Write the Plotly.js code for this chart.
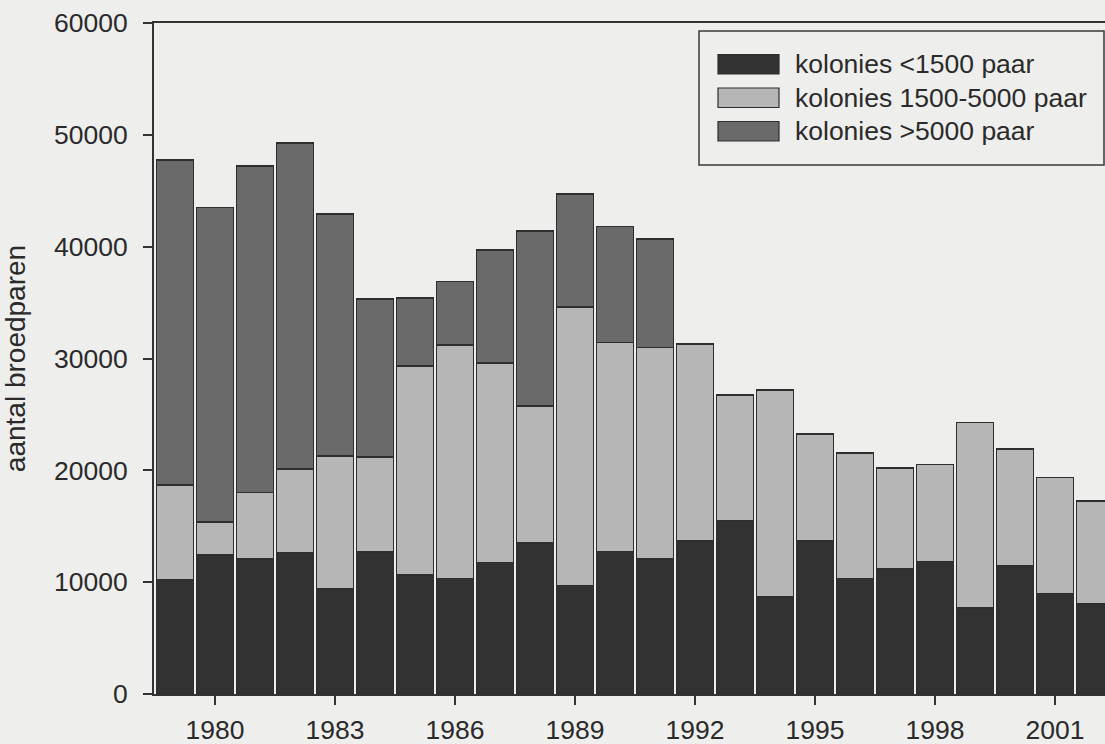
<!DOCTYPE html>
<html>
<head>
<meta charset="utf-8">
<script src="https://cdn.plot.ly/plotly-3.0.1.min.js"></script>
<style>
  html, body { margin: 0; padding: 0; background: #eeeeec; }
  #chart { width: 1105px; height: 744px; }
</style>
</head>
<body>
<div id="chart"></div>
<script>
// ---- data ----
const years = [1979,1980,1981,1982,1983,1984,1985,1986,1987,1988,1989,1990,
               1991,1992,1993,1994,1995,1996,1997,1998,1999,2000,2001,2002];
const seriesNames = ['kolonies <1500 paar', 'kolonies 1500-5000 paar', 'kolonies >5000 paar'];
const small  = [10260,12430,12080,12670, 9450,12700,10640,10350,11780,13500, 9690,12760,
                12050,13660,15500, 8680,13660,10320,11180,11870, 7690,11510, 8980, 8050];
const medium = [ 8440, 2930, 5960, 7460,11810, 8500,18700,20870,17800,12260,24900,18660,
                18930,17640,11250,18510, 9600,11210, 9010, 8670,16610,10380,10400, 9190];
const large  = [29060,28140,29190,29130,21640,14100, 6080, 5660,10130,15630,10100,10380,
                 9690, null, null, null, null, null, null, null, null, null, null, null];
const yTickVals = [0,10000,20000,30000,40000,50000,60000];
const xTickVals = [1980,1983,1986,1989,1992,1995,1998,2001];
const yTitle = 'aantal broedparen';

// ---- styles ----
const colors = ['#323232', '#b6b6b6', '#6a6a6a'];
const outline = '#2e2e2e';
const font = 'Liberation Sans, Arial, Helvetica, sans-serif';
const textColor = '#2a2a2a';

const W = 1105, H = 744;
const M = {l: 154, r: 0, t: 23, b: 50};
const pw = W - M.l - M.r, ph = H - M.t - M.b;
const px = x => (x - M.l) / pw;
const py = y => (H - M.b - y) / ph;

const traces = [small, medium, large].map((vals, i) => ({
  type: 'bar',
  x: years,
  y: vals,
  name: seriesNames[i],
  marker: {color: colors[i], line: {color: outline, width: 1.5}},
  showlegend: false,
  hoverinfo: 'x+y+name'
}));

// custom legend (box + swatches + labels)
const shapes = [{
  type: 'rect', xref: 'paper', yref: 'paper',
  x0: px(699), x1: px(1104), y0: py(165), y1: py(31),
  line: {color: '#3a3a3a', width: 1.5}, fillcolor: 'rgba(0,0,0,0)'
}];
const annotations = [];
const swTops = [54.5, 88, 121.5];
seriesNames.forEach((nm, i) => {
  shapes.push({
    type: 'rect', xref: 'paper', yref: 'paper',
    x0: px(718), x1: px(779), y0: py(swTops[i] + 19.5), y1: py(swTops[i]),
    line: {color: outline, width: 1.2}, fillcolor: colors[i]
  });
  annotations.push({
    xref: 'paper', yref: 'paper', x: px(793), y: py(swTops[i] + 9.5),
    xanchor: 'left', yanchor: 'middle', showarrow: false, text: nm,
    font: {family: font, size: 26.5, color: textColor}
  });
});

const layout = {
  width: W, height: H,
  margin: M,
  paper_bgcolor: '#eeeeec',
  plot_bgcolor: '#eeeeec',
  barmode: 'stack',
  bargap: 0.07,
  font: {family: font, size: 26, color: textColor},
  xaxis: {
    range: [1978.475, 2002.25],
    tickvals: xTickVals,
    ticks: 'outside', ticklen: 9, tickwidth: 2, tickcolor: '#333',
    showline: true, linecolor: '#333', linewidth: 2, mirror: true,
    showgrid: false, zeroline: false,
    tickfont: {family: font, size: 26.5, color: textColor},
    ticklabelstandoff: 2
  },
  yaxis: {
    range: [0, 60000],
    tickvals: yTickVals,
    tickformat: 'd',
    ticks: 'outside', ticklen: 9, tickwidth: 2, tickcolor: '#333',
    showline: true, linecolor: '#333', linewidth: 2,
    showgrid: false, zeroline: false,
    tickfont: {family: font, size: 26.5, color: textColor},
    ticklabelstandoff: 10,
    title: {text: yTitle, font: {family: font, size: 28, color: textColor}, standoff: 20},
    automargin: false
  },
  shapes: shapes,
  annotations: annotations
};

Plotly.newPlot('chart', traces, layout, {displayModeBar: false, staticPlot: true});
</script>
</body>
</html>
